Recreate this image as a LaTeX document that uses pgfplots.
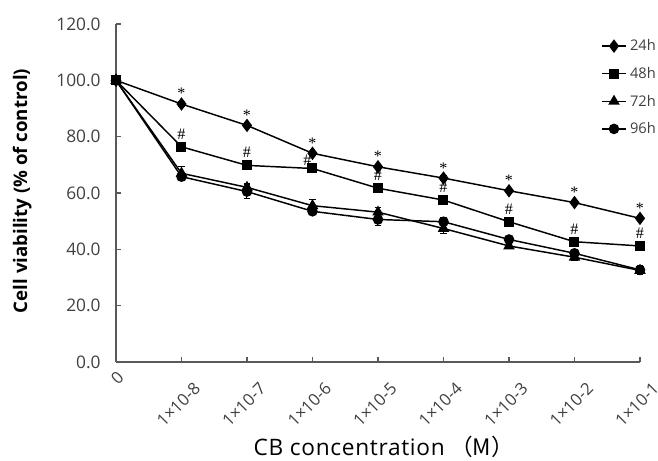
\documentclass[border=0pt]{standalone}
\usepackage{pgfplots}
\pgfplotsset{compat=1.18}
\usepackage{fontspec}
\setmainfont{Open Sans}
\newfontfamily\cjk{Noto Sans CJK SC}
\newfontfamily\markfont{Liberation Serif}
\definecolor{tickInk}{HTML}{404040}
\definecolor{axisInk}{HTML}{595959}

\begin{document}
\begin{tikzpicture}
% page = 658 x 461 px at 0.75pt per px; axis origin sits at px (116, 362)
\useasboundingbox (-87pt,-74.25pt) rectangle (406.5pt,271.5pt);
\begin{axis}[
    anchor=origin,
    scale only axis, width=393pt, height=253.5pt,
    xmin=0, xmax=8, ymin=0, ymax=120,
    clip=false,
    axis lines*=left, axis line style={axisInk, line width=0.8pt},
    tick align=inside, major tick length=3.5pt, tick style={axisInk, line width=0.8pt},
    xtick={0,...,8},
    xticklabels={{\smash{\raisebox{11.7pt}{0}}\hspace{5.25pt}},1×10-8,1×10-7,1×10-6,1×10-5,1×10-4,1×10-3,1×10-2,1×10-1},
    x tick label style={xshift=15pt, yshift=-21pt, rotate=45, anchor=base east, inner sep=0pt,
                        font=\fontsize{12.5}{12.5}\selectfont, text=tickInk},
    ytick={0,20,...,120},
    y tick label style={xshift=-8pt, font=\fontsize{13}{13}\selectfont, text=tickInk},
    yticklabel style={/pgf/number format/.cd, fixed, fixed zerofill, precision=1, assume math mode=true},
    every axis y label/.style={at={(rel axis cs:-0.179,0.506)}, rotate=90, anchor=center},
    ylabel={\fontsize{14}{14}\selectfont\bfseries Cell viability (\% of control)},
    every axis x label/.style={at={(rel axis cs:0.511,-0.278)}, anchor=base},
    xlabel={\fontsize{17}{17}\selectfont\addfontfeature{LetterSpace=3}CB concentration\hspace{4pt}{\cjk （M）}},
    legend style={at={(rel axis cs:0.9256,0.957)}, anchor=north west, draw=none, fill=none,
                  font=\fontsize{11}{11}\selectfont, text=tickInk, row sep=9.7pt,
                  inner sep=0pt, nodes={inner sep=0pt, text height=9pt, text depth=2pt},
                  /tikz/every odd column/.append style={column sep=2.5pt}},
    legend cell align=left,
    legend image code/.code={\draw[mark repeat=2,mark phase=2,#1] plot coordinates {(0pt,0pt) (9pt,0pt) (18pt,0pt)};},
    every axis plot/.append style={black, line width=1.1pt, mark options={solid, fill=black}},
    error bars/error bar style={line width=0.75pt},
    error bars/error mark options={line width=0.75pt, mark size=2.6pt, rotate=90},
  ]
  % 24h
  \addplot[mark=diamond*, mark size=4.2pt, error bars/.cd, y dir=both, y explicit] coordinates {
    (0,100) +- (0,0.5) (1,91.6) +- (0,0.8) (2,84.0) +- (0,0.8) (3,74.1) +- (0,0.8) (4,69.3) +- (0,0.8)
    (5,65.3) +- (0,0.8) (6,60.8) +- (0,0.8) (7,56.6) +- (0,0.8) (8,51.0) +- (0,0.8)};
  % 48h
  \addplot[mark=square*, mark size=3.2pt, error bars/.cd, y dir=both, y explicit] coordinates {
    (0,100) +- (0,0.5) (1,76.4) +- (0,0.8) (2,69.8) +- (0,0.8) (3,68.7) +- (0,0.8) (4,61.7) +- (0,0.8)
    (5,57.5) +- (0,0.8) (6,49.8) +- (0,0.8) (7,42.7) +- (0,0.8) (8,41.2) +- (0,0.8)};
  % 72h
  \addplot[mark=triangle*, mark size=3.9pt, error bars/.cd, y dir=both, y explicit] coordinates {
    (0,100) +- (0,0.5) (1,67.0) +- (0,2.5) (2,62.0) +- (0,1.5) (3,55.5) +- (0,2.3) (4,53.2) +- (0,1.5)
    (5,47.4) +- (0,1.8) (6,41.2) +- (0,1.0) (7,37.2) +- (0,1.0) (8,32.5) +- (0,1.2)};
  % 96h
  \addplot[mark=*, mark size=3.4pt, error bars/.cd, y dir=both, y explicit] coordinates {
    (0,100) +- (0,0.5) (1,65.8) +- (0,1.2) (2,60.5) +- (0,2.4) (3,53.5) +- (0,1.2) (4,50.6) +- (0,2.0)
    (5,49.8) +- (0,1.5) (6,43.5) +- (0,1.2) (7,38.6) +- (0,1.5) (8,32.7) +- (0,1.5)};
  \legend{24h,48h,72h,96h}

  % significance marks
  \addplot[forget plot, draw=none, mark=none, nodes near coords, point meta=explicit symbolic,
           nodes near coords style={font=\markfont\fontsize{12}{12}\selectfont, anchor=base,
                                    inner sep=0pt, yshift=3.75pt, text=black}]
    coordinates {(1,91.6)[*] (2,84.0)[*] (3,74.1)[*] (4,69.3)[*] (5,65.3)[*] (6,60.8)[*] (7,56.6)[*] (8,51.0)[*]};
  \addplot[forget plot, draw=none, mark=none, nodes near coords, point meta=explicit symbolic,
           nodes near coords style={font=\markfont\fontsize{12}{12}\selectfont, anchor=base,
                                    inner sep=0pt, yshift=5.7pt, text=black}]
    coordinates {(1,76.4)[\#] (2,69.8)[\#] (4,61.7)[\#] (5,57.5)[\#] (6,49.8)[\#] (7,42.7)[\#] (8,41.2)[\#]};
  \addplot[forget plot, draw=none, mark=none, nodes near coords, point meta=explicit symbolic,
           nodes near coords style={font=\markfont\fontsize{12}{12}\selectfont, anchor=base,
                                    inner sep=0pt, yshift=2pt, xshift=-3.75pt, text=black}]
    coordinates {(3,68.7)[\#]};
\end{axis}
\end{tikzpicture}
\end{document}
